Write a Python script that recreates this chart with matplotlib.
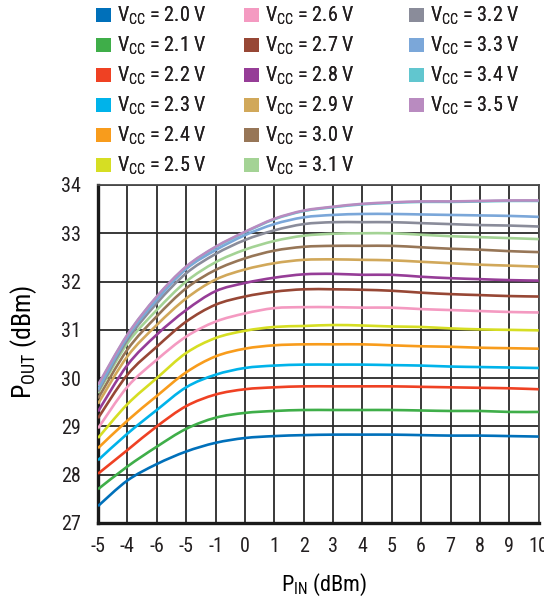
import numpy as np
import matplotlib
matplotlib.use("Agg")
import matplotlib.pyplot as plt
from matplotlib.patches import Patch, PathPatch
from matplotlib.path import Path
from matplotlib import font_manager

# Pick a narrow sans if one is installed
names = {f.name for f in font_manager.fontManager.ttflist}
FONT = 'Roboto'
for cand in ['Liberation Sans Narrow', 'Roboto Condensed', 'Open Sans Condensed',
             'DejaVu Sans Condensed']:
    if cand in names:
        FONT = cand
        break
plt.rcParams['font.family'] = [FONT, 'DejaVu Sans']
plt.rcParams['font.stretch'] = 'condensed'
plt.rcParams['mathtext.fontset'] = 'custom'
plt.rcParams['mathtext.rm'] = FONT
plt.rcParams['text.color'] = '#231f20'

# Data
x_labels = ['-5', '-4', '-6', '-5', '-1', '0', '1', '2', '3', '4', '5', '6', '7', '8', '9', '10']
y_ticks = [27, 28, 29, 30, 31, 32, 33, 34]
vcc = ['2.0', '2.1', '2.2', '2.3', '2.4', '2.5', '2.6', '2.7',
       '2.8', '2.9', '3.0', '3.1', '3.2', '3.3', '3.4', '3.5']
colors = ['#0070ba', '#3fae49', '#ef4123', '#00b3ea', '#f89c1c', '#d6de23',
          '#f49ac1', '#974735', '#963d97', '#d1a85a', '#977657', '#a4d395',
          '#8a8c9a', '#7ba7d9', '#61c6cf', '#b98bc0']

p_20 = [27.35, 27.88, 28.22, 28.48, 28.66, 28.76, 28.80, 28.82, 28.83, 28.83, 28.83, 28.82, 28.81, 28.81, 28.80, 28.79]
p_21 = [27.70, 28.17, 28.58, 28.95, 29.18, 29.28, 29.32, 29.34, 29.34, 29.34, 29.34, 29.33, 29.32, 29.32, 29.30, 29.30]
p_22 = [28.02, 28.51, 29.00, 29.42, 29.66, 29.77, 29.81, 29.83, 29.83, 29.83, 29.83, 29.82, 29.81, 29.80, 29.79, 29.77]
p_23 = [28.30, 28.85, 29.34, 29.81, 30.07, 30.21, 30.26, 30.28, 30.28, 30.28, 30.27, 30.26, 30.24, 30.23, 30.22, 30.21]
p_24 = [28.55, 29.12, 29.63, 30.12, 30.45, 30.61, 30.68, 30.70, 30.70, 30.70, 30.68, 30.66, 30.65, 30.63, 30.62, 30.61]
p_25 = [28.76, 29.46, 30.00, 30.52, 30.83, 30.98, 31.06, 31.08, 31.10, 31.09, 31.07, 31.06, 31.03, 31.01, 31.00, 30.99]
p_26 = [28.96, 29.82, 30.38, 30.86, 31.17, 31.34, 31.45, 31.47, 31.47, 31.46, 31.46, 31.43, 31.41, 31.39, 31.37, 31.36]
p_27 = [29.17, 30.07, 30.65, 31.17, 31.52, 31.69, 31.79, 31.84, 31.84, 31.83, 31.81, 31.77, 31.74, 31.72, 31.70, 31.69]
p_28 = [29.31, 30.27, 30.90, 31.41, 31.80, 31.97, 32.08, 32.15, 32.16, 32.14, 32.14, 32.10, 32.07, 32.05, 32.03, 32.02]
p_29 = [29.47, 30.45, 31.10, 31.65, 32.04, 32.25, 32.38, 32.45, 32.46, 32.45, 32.44, 32.41, 32.38, 32.35, 32.33, 32.31]
p_30 = [29.58, 30.59, 31.28, 31.86, 32.24, 32.48, 32.64, 32.72, 32.74, 32.74, 32.74, 32.71, 32.68, 32.66, 32.63, 32.61]
p_31 = [29.69, 30.72, 31.41, 32.00, 32.40, 32.66, 32.84, 32.95, 32.99, 33.00, 33.00, 32.97, 32.94, 32.92, 32.90, 32.88]
p_32 = [29.72, 30.79, 31.55, 32.17, 32.57, 32.86, 33.06, 33.19, 33.23, 33.23, 33.23, 33.21, 33.19, 33.17, 33.16, 33.14]
p_33 = [29.76, 30.85, 31.62, 32.26, 32.65, 32.96, 33.19, 33.33, 33.38, 33.40, 33.40, 33.39, 33.38, 33.37, 33.36, 33.34]
p_34 = [29.84, 30.89, 31.68, 32.30, 32.71, 33.02, 33.29, 33.46, 33.54, 33.60, 33.63, 33.65, 33.65, 33.66, 33.67, 33.67]
p_35 = [29.86, 30.90, 31.69, 32.31, 32.72, 33.03, 33.30, 33.47, 33.55, 33.61, 33.64, 33.66, 33.66, 33.67, 33.68, 33.68]

series = [p_20, p_21, p_22, p_23, p_24, p_25, p_26, p_27,
          p_28, p_29, p_30, p_31, p_32, p_33, p_34, p_35]


def smooth_path(xs, ys):
    # Catmull-Rom through the read points, drawn as cubic Bezier segments
    pts = np.column_stack([xs, ys]).astype(float)
    verts = [pts[0]]
    codes = [Path.MOVETO]
    n = len(pts)
    for i in range(n - 1):
        p0 = pts[max(i - 1, 0)]
        p1 = pts[i]
        p2 = pts[i + 1]
        p3 = pts[min(i + 2, n - 1)]
        c1 = p1 + (p2 - p0) / 6.0
        c2 = p2 - (p3 - p1) / 6.0
        verts += [c1, c2, p2]
        codes += [Path.CURVE4] * 3
    return Path(verts, codes)


fig = plt.figure(figsize=(5.44, 5.98), dpi=100)
ax = fig.add_axes([98 / 544, 1 - 523 / 598, 440.7 / 544, 338 / 598])

xs = np.arange(len(x_labels))
for v, ys, c in zip(vcc, series, colors):
    ax.add_patch(PathPatch(smooth_path(xs, ys), facecolor='none', edgecolor=c,
                           lw=1.9, zorder=3))

ax.set_xlim(xs[0], xs[-1])
ax.set_ylim(27, 34)
ax.set_xticks(xs)
ax.set_xticklabels(x_labels)
ax.set_yticks(y_ticks)
ax.tick_params(length=0, labelsize=14.5, colors='#231f20')
ax.tick_params(axis='x', pad=10)
ax.tick_params(axis='y', pad=12)
ax.grid(True, color='#2a2a2a', lw=1.3, zorder=1)

for s in ['left', 'bottom']:
    ax.spines[s].set_linewidth(2.4)
    ax.spines[s].set_color('#1a1a1a')
for s in ['top', 'right']:
    ax.spines[s].set_linewidth(1.3)
    ax.spines[s].set_color('#4a4a4a')

ax.set_xlabel(r'P$_{\mathrm{IN}}$ (dBm)', fontsize=16)
ax.set_ylabel(r'P$_{\mathrm{OUT}}$ (dBm)', fontsize=18.5)
ax.xaxis.set_label_coords(0.512, -0.145)
ax.yaxis.set_label_coords(-0.135, 0.535)

# Legend: three columns of six, placed one column at a time
labels = [r'V$_{\mathrm{CC}}$ = %s V' % v for v in vcc]
col_x = [92, 240, 405]
for j, x0 in enumerate(col_x):
    idx = range(6 * j, min(6 * j + 6, len(vcc)))
    handles = [Patch(facecolor=colors[i], edgecolor='none') for i in idx]
    leg = fig.legend(handles, [labels[i] for i in idx], loc='upper left',
                     bbox_to_anchor=(x0 / 544, 1 - 1 / 598), frameon=False,
                     fontsize=14.5, handlelength=0.72, handleheight=0.72,
                     handletextpad=0.3, labelspacing=0.38,
                     borderaxespad=0, borderpad=0.2)
    fig.add_artist(leg)

fig.savefig('out.png', dpi=100)
